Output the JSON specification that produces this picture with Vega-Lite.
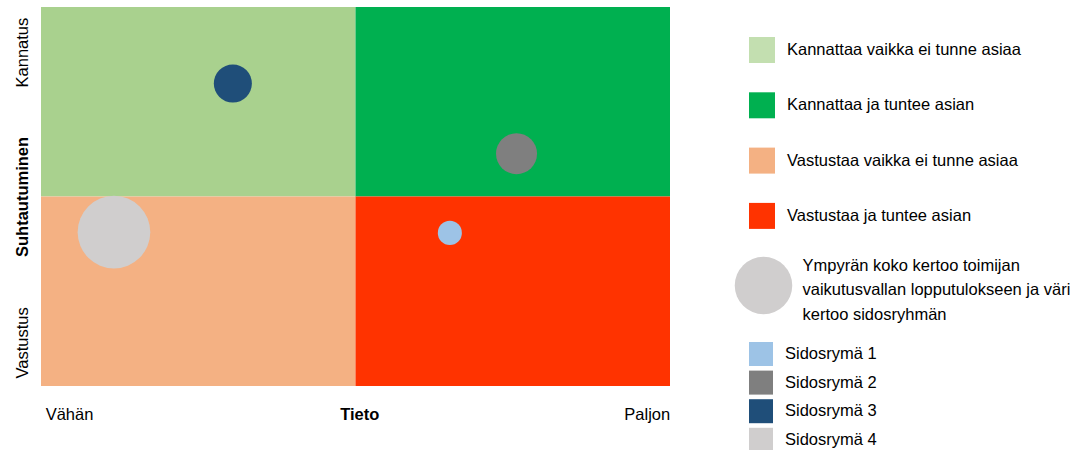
{
  "$schema": "https://vega.github.io/schema/vega-lite/v6.json",
  "width": 629,
  "height": 379,
  "autosize": {"type": "none"},
  "padding": {"left": 41, "top": 7, "right": 416, "bottom": 64},
  "background": "white",
  "config": {
    "view": {"stroke": null},
    "font": "Liberation Sans, Arial, sans-serif"
  },
  "layer": [
    {
      "data": {
        "values": [
          {"suhtautuminen": "Kannattaa vaikka ei tunne asiaa", "tieto_min": 0, "tieto_max": 5, "kanta_min": 5, "kanta_max": 10},
          {"suhtautuminen": "Kannattaa ja tuntee asian", "tieto_min": 5, "tieto_max": 10, "kanta_min": 5, "kanta_max": 10},
          {"suhtautuminen": "Vastustaa vaikka ei tunne asiaa", "tieto_min": 0, "tieto_max": 5, "kanta_min": 0, "kanta_max": 5},
          {"suhtautuminen": "Vastustaa ja tuntee asian", "tieto_min": 5, "tieto_max": 10, "kanta_min": 0, "kanta_max": 5}
        ]
      },
      "mark": {"type": "rect", "strokeWidth": 0},
      "encoding": {
        "x": {
          "field": "tieto_min", "type": "quantitative",
          "scale": {"domain": [0, 10], "nice": false, "zero": false},
          "axis": {
            "title": null, "values": [0.445, 5.06, 9.63],
            "labelExpr": "datum.value < 1 ? 'Vähän' : datum.value < 6 ? 'Tieto' : 'Paljon'",
            "ticks": false, "domain": false, "grid": false,
            "labelPadding": 20, "labelFontSize": 16.5, "labelColor": "#000000",
            "labelFlush": false, "labelOverlap": false, "labelAlign": "center", "labelBaseline": "top",
            "labelFontWeight": {"condition": {"test": "datum.value > 4 && datum.value < 6", "value": "bold"}, "value": "normal"}
          }
        },
        "x2": {"field": "tieto_max"},
        "y": {
          "field": "kanta_min", "type": "quantitative",
          "scale": {"domain": [0, 10], "nice": false, "zero": false},
          "axis": {
            "title": null, "values": [1.15, 5, 8.81],
            "labelExpr": "datum.value < 2 ? 'Vastustus' : datum.value < 6 ? 'Suhtautuminen' : 'Kannatus'",
            "ticks": false, "domain": false, "grid": false,
            "labelAngle": -90, "labelAlign": "center", "labelBaseline": "bottom",
            "labelPadding": 10.5, "labelFontSize": 16.5, "labelColor": "#000000",
            "labelFlush": false, "labelOverlap": false,
            "labelFontWeight": {"condition": {"test": "datum.value > 4 && datum.value < 6", "value": "bold"}, "value": "normal"}
          }
        },
        "y2": {"field": "kanta_max"},
        "fill": {
          "field": "suhtautuminen", "type": "nominal",
          "scale": {
            "domain": ["Kannattaa vaikka ei tunne asiaa", "Kannattaa ja tuntee asian", "Vastustaa vaikka ei tunne asiaa", "Vastustaa ja tuntee asian"],
            "range": ["#a9d18e", "#00b050", "#f4b183", "#ff3300"]
          },
          "legend": {
            "orient": "none", "legendX": 708, "legendY": 30, "title": null,
            "symbolType": "square", "symbolSize": 676, "symbolStrokeWidth": 0, "symbolOpacity": 1,
            "labelFontSize": 16.5, "labelColor": "#000000", "labelOffset": 12, "labelLimit": 400,
            "rowPadding": 29.3, "padding": 0,
            "encode": {"symbols": {"update": {"fillOpacity": {"signal": "datum.label === 'Kannattaa vaikka ei tunne asiaa' ? 0.7 : 1"}}}}
          }
        }
      }
    },
    {
      "data": {
        "values": [
          {"ryhma": "Sidosrymä 1", "tieto": 6.5, "kanta": 4.04, "vaikutusvalta": 10},
          {"ryhma": "Sidosrymä 2", "tieto": 7.56, "kanta": 6.13, "vaikutusvalta": 29},
          {"ryhma": "Sidosrymä 3", "tieto": 3.05, "kanta": 7.98, "vaikutusvalta": 25},
          {"ryhma": "Sidosrymä 4", "tieto": 1.16, "kanta": 4.06, "vaikutusvalta": 91}
        ]
      },
      "mark": {"type": "circle", "opacity": 1, "strokeWidth": 0},
      "encoding": {
        "x": {"field": "tieto", "type": "quantitative"},
        "y": {"field": "kanta", "type": "quantitative"},
        "color": {
          "field": "ryhma", "type": "nominal",
          "scale": {
            "domain": ["Sidosrymä 1", "Sidosrymä 2", "Sidosrymä 3", "Sidosrymä 4"],
            "range": ["#9dc3e6", "#7f7f7f", "#1f4e79", "#d0cece"]
          },
          "legend": {
            "orient": "none", "legendX": 708, "legendY": 335, "title": null,
            "symbolType": "square", "symbolSize": 576, "symbolStrokeWidth": 0, "symbolOpacity": 1,
            "labelFontSize": 16.5, "labelColor": "#000000", "labelOffset": 12, "labelLimit": 400,
            "rowPadding": 4.6, "padding": 0
          }
        },
        "size": {
          "field": "vaikutusvalta", "type": "quantitative",
          "scale": {"domain": [0, 100], "range": [0, 5800]},
          "legend": {
            "orient": "none", "legendX": 693.5, "legendY": 249.5, "title": null,
            "values": [57], "symbolType": "circle", "symbolFillColor": "#d0cece",
            "symbolStrokeWidth": 0, "symbolOpacity": 1,
            "labelExpr": "['Ympyrän koko kertoo toimijan', 'vaikutusvallan lopputulokseen ja väri', 'kertoo sidosryhmän']",
            "labelFontSize": 16.5, "labelColor": "#000000", "labelOffset": 10, "labelLimit": 500, "padding": 0,
            "encode": {
              "labels": {"update": {"lineHeight": {"value": 24.5}, "dy": {"value": -20}}},
              "symbols": {"update": {"fill": {"value": "#d0cece"}, "opacity": {"value": 1}, "strokeWidth": {"value": 0}}}
            }
          }
        }
      }
    }
  ]
}
